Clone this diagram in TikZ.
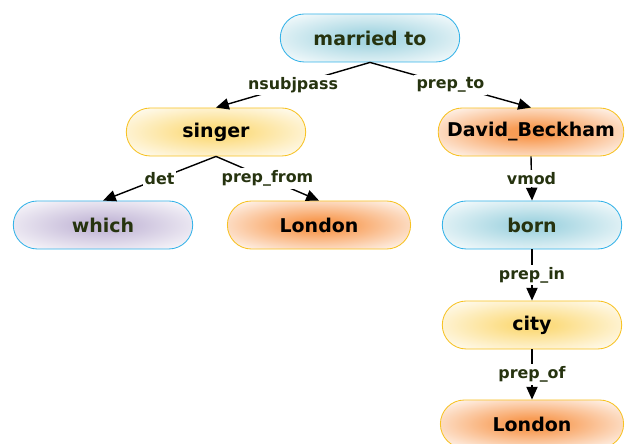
\documentclass[tikz,border=0pt]{standalone}
\usepackage{fontspec}
\setmainfont{DejaVu Sans}
\usetikzlibrary{shapes.misc,arrows.meta}
\definecolor{txtgreen}{HTML}{26330F}
\definecolor{bluerim}{HTML}{33B2E8}
\definecolor{bluefill}{HTML}{A6D6E2}
\definecolor{yellowrim}{HTML}{F7C223}
\definecolor{yellowfill}{HTML}{FCDC80}
\definecolor{orangefill}{HTML}{F89C55}
\definecolor{purplefill}{HTML}{C6BBD9}
\pgfdeclareradialshading{blueglow}{\pgfpoint{0bp}{0bp}}{color(0bp)=(bluefill); color(6bp)=(bluefill); color(36bp)=(white); color(50bp)=(white)}
\pgfdeclareradialshading{yellowglow}{\pgfpoint{0bp}{0bp}}{color(0bp)=(yellowfill); color(6bp)=(yellowfill); color(36bp)=(white); color(50bp)=(white)}
\pgfdeclareradialshading{orangeglow}{\pgfpoint{0bp}{0bp}}{color(0bp)=(orangefill); color(6bp)=(orangefill); color(36bp)=(white); color(50bp)=(white)}
\pgfdeclareradialshading{purpleglow}{\pgfpoint{0bp}{0bp}}{color(0bp)=(purplefill); color(6bp)=(purplefill); color(36bp)=(white); color(50bp)=(white)}
\tikzset{
  word/.style={rounded rectangle, minimum width=4.625cm, minimum height=1.2cm,
    inner xsep=2pt, line width=0.6pt, shade,
    font=\bfseries\fontsize{13.5}{16}\selectfont, text=txtgreen},
  blueword/.style={word, draw=bluerim, shading=blueglow},
  yellowword/.style={word, draw=yellowrim, shading=yellowglow, text=black},
  orangeword/.style={word, draw=yellowrim, shading=orangeglow, text=black},
  purpleword/.style={word, draw=bluerim, shading=purpleglow},
  dep/.style={-{Triangle[length=3.2mm,width=2.8mm]}, line width=1pt},
  rel/.style={fill=white, inner sep=1.5pt, text=txtgreen,
    font=\bfseries\fontsize{11.3}{13}\selectfont}
}
\begin{document}
\begin{tikzpicture}[x=0.025cm, y=-0.025cm]
\useasboundingbox (0,0) rectangle (626,444);
% words
\node[blueword] (married) at (370,38) {married to};
\node[yellowword] (singer) at (216,132) {singer};
\node[orangeword, minimum width=4.78cm] (beckham) at (531,132) {David\_Beckham};
\node[purpleword] (which) at (103,225) {which};
\node[orangeword, minimum width=4.72cm] (london) at (319,225) {London};
\node[blueword] (born) at (532,225) {born};
\node[yellowword] (city) at (532,325) {city};
\node[orangeword, minimum width=4.72cm] (london2) at (532,424) {London};
% dependencies
\draw[dep] (married.south) -- node[rel]{nsubjpass} (singer.north);
\draw[dep] (married.south) -- node[rel]{prep\_to} (beckham.north);
\draw[dep] (singer.south) -- node[rel]{det} (which.north);
\draw[dep] (singer.south) -- node[rel]{prep\_from} (london.north);
\draw[dep] (beckham.south) -- node[rel]{vmod} (born.north);
\draw[dep] (born.south) -- node[rel]{prep\_in} (city.north);
\draw[dep] (city.south) -- node[rel]{prep\_of} (london2.north);
\end{tikzpicture}
\end{document}
